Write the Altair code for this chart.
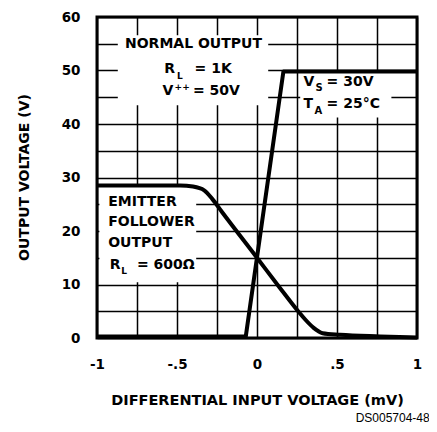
import altair as alt
import pandas as pd

# ---- data ----
# Normal output (R_L = 1K, V++ = 50V)
normal_x = [-1.0, -0.07, 0.165, 1.0]
normal_y = [0.3, 0.3, 49.8, 49.8]

# Emitter follower output (R_L = 600 ohm)
emitter_x = [-1.0, -0.48, -0.40, -0.33, -0.28, -0.22, 0.0, 0.14, 0.26, 0.30, 0.35, 0.41, 0.52, 0.77, 1.0]
emitter_y = [28.5, 28.5, 28.3, 27.6, 26.0, 23.6, 15.0, 9.5, 4.9, 3.5, 2.0, 0.9, 0.6, 0.3, 0.1]

# axis grid / tick labels
x_grid = [-1, -0.75, -0.5, -0.25, 0, 0.25, 0.5, 0.75, 1]
y_grid = [0, 5, 10, 15, 20, 25, 30, 35, 40, 45, 50, 55, 60]
x_tick_labels = ["-1", "-.5", "0", ".5", "1"]
x_tick_values = [-1, -0.5, 0, 0.5, 1]

# label boxes (white background behind annotation text), data units
box_x1 = [-0.87, -0.985, 0.27]
box_x2 = [0.07, -0.38, 0.84]
box_y1 = [43.5, 10.4, 41.2]
box_y2 = [56.6, 28.4, 49.6]

# annotation texts (left aligned), data units; fs = font size
ann_text = ["NORMAL OUTPUT", "R", "L", "= 1K", "V", "++", "= 50V",
            "V", "S", "= 30V", "T", "A", "= 25°C",
            "EMITTER", "FOLLOWER", "OUTPUT", "R", "L", "= 600Ω"]
ann_x = [-0.825, -0.58, -0.50, -0.39, -0.59, -0.515, -0.40,
         0.29, 0.365, 0.435, 0.29, 0.36, 0.435,
         -0.93, -0.93, -0.93, -0.92, -0.848, -0.75]
ann_y = [55.0, 50.3, 49.0, 50.3, 46.1, 47.0, 46.1,
         47.9, 46.8, 47.9, 43.7, 42.4, 43.7,
         25.4, 21.7, 17.8, 13.6, 12.6, 13.6]
ann_fs = [14, 14, 9, 14, 14, 9, 14,
          14, 10, 14, 14, 10, 14,
          14, 14, 14, 14, 9, 14]

FONT = "DejaVu Sans"

normal_df = pd.DataFrame({"x": normal_x, "y": normal_y, "o": range(len(normal_x))})
emitter_df = pd.DataFrame({"x": emitter_x, "y": emitter_y, "o": range(len(emitter_x))})
box_df = pd.DataFrame({"x": box_x1, "x2": box_x2, "y": box_y1, "y2": box_y2})
ann_df = pd.DataFrame({"x": ann_x, "y": ann_y, "text": ann_text, "fs": ann_fs})

label_lookup = "{" + ",".join(f"'{v}':'{l}'" for v, l in zip(x_tick_values, x_tick_labels)) + "}"

x_axis = alt.Axis(
    values=x_grid, grid=True, ticks=False, tickSize=0, domain=False,
    labelExpr=f"({label_lookup})[toString(datum.value)] || ''",
    labelFont=FONT, labelFontSize=13.5, labelFontWeight="bold", labelColor="black",
    labelPadding=19, labelFlush=False, labelOverlap=False,
    title="DIFFERENTIAL INPUT VOLTAGE (mV)", titleFont=FONT, titleFontSize=14.5,
    titleFontWeight="bold", titleColor="black", titleX=160, titleY=62,
    titleAlign="center", titleBaseline="middle",
)
y_axis = alt.Axis(
    values=y_grid, grid=True, ticks=False, tickSize=0, domain=False,
    labelExpr="datum.value % 10 == 0 ? datum.label : ''",
    labelFont=FONT, labelFontSize=13.5, labelFontWeight="bold", labelColor="black",
    labelPadding=17, labelFlush=False, labelOverlap=False,
    title="OUTPUT VOLTAGE (V)", titleFont=FONT, titleFontSize=14,
    titleFontWeight="bold", titleColor="black", titleX=-73, titleY=160,
    titleAngle=-90, titleAlign="center", titleBaseline="middle",
)

xs = alt.Scale(domain=[-1, 1], nice=False, zero=False)
ys = alt.Scale(domain=[0, 60], nice=False, zero=False)
X = alt.X("x:Q", scale=xs, axis=x_axis)
Y = alt.Y("y:Q", scale=ys, axis=y_axis)

boxes = alt.Chart(box_df).mark_rect(color="white").encode(
    x=X, x2="x2:Q", y=Y, y2="y2:Q"
)
normal = alt.Chart(normal_df).mark_line(
    color="black", strokeWidth=4, strokeJoin="round", interpolate="linear"
).encode(x=X, y=Y, order="o:Q")
emitter = alt.Chart(emitter_df).mark_line(
    color="black", strokeWidth=4, strokeJoin="round", interpolate="monotone"
).encode(x=X, y=Y, order="o:Q")
texts = alt.Chart(ann_df).mark_text(
    align="left", baseline="middle", font=FONT, fontWeight="bold", color="black"
).encode(x=X, y=Y, text="text:N", size=alt.Size("fs:Q", scale=None))

chart = alt.layer(boxes, normal, emitter, texts).properties(
    width=320, height=321,
    autosize=alt.AutoSizeParams(type="none"),
    padding={"left": 89, "top": 9, "right": 12, "bottom": 86},
    title=alt.TitleParams(
        text="DS005704-48", orient="bottom", anchor="end", font="Liberation Sans",
        fontSize=12, fontWeight="normal", color="black", offset=6, dx=8,
    ),
).configure_view(
    stroke="black", strokeWidth=3
).configure_axis(
    gridColor="black", gridWidth=1.5, gridOpacity=1
)

chart.save("out.html", embed_options={"renderer": "svg", "actions": False})
